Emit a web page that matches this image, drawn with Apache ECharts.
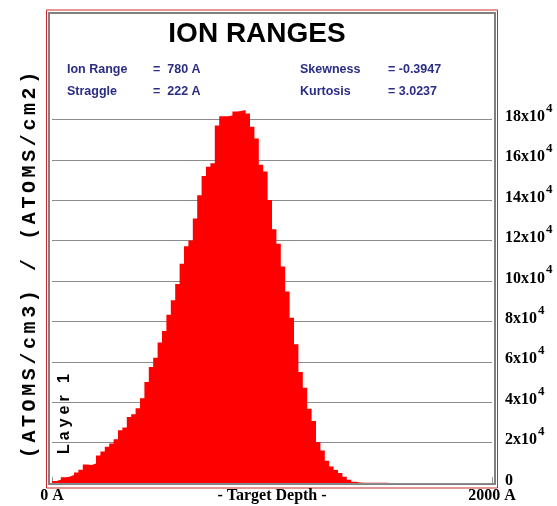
<!DOCTYPE html>
<html lang="en">
<head>
<meta charset="utf-8" />
<title>Ion Ranges</title>
<script src="https://cdn.jsdelivr.net/npm/echarts@6.0.0/dist/echarts.min.js"></script>
<style>
  html, body { margin: 0; padding: 0; background: #fff; }
  #main { width: 557px; height: 506px; }
</style>
</head>
<body>
<div id="main"></div>
<script>
// left edge of each 20 A depth bin
const depth = [
  0, 20, 40, 60, 80, 100, 120, 140, 160, 180,
  200, 220, 240, 260, 280, 300, 320, 340, 360, 380,
  400, 420, 440, 460, 480, 500, 520, 540, 560, 580,
  600, 620, 640, 660, 680, 700, 720, 740, 760, 780,
  800, 820, 840, 860, 880, 900, 920, 940, 960, 980,
  1000, 1020, 1040, 1060, 1080, 1100, 1120, 1140, 1160, 1180,
  1200, 1220, 1240, 1260, 1280, 1300, 1320, 1340, 1360, 1380,
  1400, 1420, 1440, 1460, 1480, 1500, 1520, 1540, 1560, 1580
];
// ion density per bin, (ATOMS/cm3) / (ATOMS/cm2)
const density = [
  1000, 1600, 2900, 3100, 4000, 5200, 6500, 9200, 8900, 9700,
  13600, 15600, 17900, 19600, 21600, 26100, 27500, 32700, 34000, 37000,
  41900, 50000, 57400, 62000, 69500, 75300, 83300, 90500, 98500, 108600,
  117200, 120000, 131000, 142500, 152000, 156600, 158300, 177000, 181500, 181600,
  181900, 183900, 184100, 184600, 182900, 176400, 170500, 157600, 154200, 140100,
  125600, 118500, 107200, 94800, 81800, 68700, 55000, 47100, 36800, 30700,
  20300, 16100, 11000, 8200, 6400, 5000, 3100, 1600, 600, 200,
  100, 100, 100, 100, 100, 100, 0, 0, 0, 0
];
const yTicks = [0, 20000, 40000, 60000, 80000, 100000, 120000, 140000, 160000, 180000];
const xTickValues = [0, 1000, 2000];
const xTickLabels = ['0 A', '- Target Depth -', '2000 A'];
const statNames = ['Ion Range', 'Straggle', 'Skewness', 'Kurtosis'];
const statValues = ['=  780 A', '=  222 A', '= -0.3947', '= 3.0237'];

const chart = echarts.init(document.getElementById('main'));

const points = depth.map((d, i) => [d, density[i]]);
points.push([depth[depth.length - 1] + 20, 0]);

// spaced-out text built from one rich token per character
function spaced(str, style) {
  return str.split('').map(c => '{' + style + '|' + c + '}').join('');
}

const statColor = '#2b2d85';
const statFont = { fontFamily: 'Liberation Sans', fontWeight: 'bold', fontSize: 12.5, fill: statColor };
const statText = [];
const statX = [[67, 153], [67, 153], [300, 388], [300, 388]];
const statY = [70, 92, 70, 92];
statNames.forEach((name, i) => {
  statText.push({ type: 'text', x: statX[i][0], y: statY[i],
    style: Object.assign({ text: name, verticalAlign: 'middle' }, statFont) });
  statText.push({ type: 'text', x: statX[i][1], y: statY[i],
    style: Object.assign({ text: statValues[i], verticalAlign: 'middle' }, statFont) });
});

const option = {
  backgroundColor: '#fff',
  animation: false,
  title: {
    text: 'ION RANGES',
    left: 257,
    top: 20,
    padding: 0,
    textAlign: 'center',
    textStyle: { fontFamily: 'Liberation Sans', fontWeight: 'bold', fontSize: 28, color: '#000' }
  },
  grid: { left: 52, right: 65, top: 79, bottom: 23 },
  xAxis: {
    type: 'value',
    min: 0, max: 2000, interval: 1000,
    axisLine: { show: false },
    axisTick: { show: true, inside: true, length: 6, lineStyle: { color: '#999' } },
    splitLine: { show: false },
    axisLabel: {
      margin: 5,
      showMinLabel: true, showMaxLabel: true,
      fontFamily: 'Liberation Serif', fontWeight: 'bold', fontSize: 16, color: '#000',
      formatter: v => xTickLabels[xTickValues.indexOf(v)] || ''
    }
  },
  yAxis: {
    type: 'value',
    position: 'right',
    min: 0, max: 200000, interval: 20000,
    z: 3,
    axisLine: { show: false },
    axisTick: { show: false },
    splitLine: { show: true, showMaxLine: false, lineStyle: { color: '#8c8c8c', width: 1 } },
    axisLabel: {
      showMaxLabel: false,
      margin: 13,
      align: 'left',
      formatter: v => {
        if (yTicks.indexOf(v) < 0) return '';
        return v === 0 ? '{n|0}' : '{n|' + (v / 10000) + 'x10}{s|4}';
      },
      rich: {
        n: { fontFamily: 'Liberation Serif', fontWeight: 'bold', fontSize: 16, color: '#000', padding: [0, 0, 5, 0] },
        s: { fontFamily: 'Liberation Serif', fontWeight: 'bold', fontSize: 13, color: '#000', padding: [0, 0, 22, 1] }
      }
    }
  },
  graphic: [
    { type: 'rect', shape: { x: 46.5, y: 10, width: 451, height: 478 },
      style: { fill: null, stroke: '#cc2a2a', lineWidth: 1 } },
    { type: 'rect', shape: { x: 49, y: 13, width: 446, height: 471 },
      style: { fill: null, stroke: '#808080', lineWidth: 2 } },
    { type: 'text', x: 30, y: 265, rotation: Math.PI / 2, z: 10,
      style: { text: spaced('(ATOMS/cm3) / (ATOMS/cm2)', 'c'), align: 'center', verticalAlign: 'middle',
        rich: { c: { fontFamily: 'Liberation Mono', fontWeight: 'bold', fontSize: 20, fill: '#000', padding: [0, 1.8, 0, 1.8] } } } },
    { type: 'text', x: 65, y: 414, rotation: Math.PI / 2, z: 10,
      style: { text: spaced('Layer 1', 'c'), align: 'center', verticalAlign: 'middle',
        rich: { c: { fontFamily: 'Liberation Sans', fontWeight: 'bold', fontSize: 16, fill: '#000', padding: [0, 2, 0, 2] } } } }
  ].concat(statText),
  series: [{
    type: 'line',
    step: 'end',
    data: points,
    showSymbol: false,
    silent: true,
    lineStyle: { width: 0 },
    areaStyle: { color: '#ff0000', opacity: 1 }
  }]
};

chart.setOption(option);
</script>
</body>
</html>
